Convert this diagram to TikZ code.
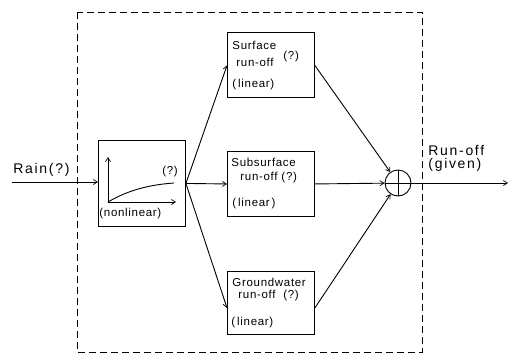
\documentclass[tikz,border=0pt]{standalone}
\usepackage{fontspec}
\setmainfont{Liberation Sans}[LetterSpace=6]
\usetikzlibrary{arrows.meta}
\begin{document}
\begin{tikzpicture}[x=1pt,y=-1pt,
  line width=0.9pt,
  arr/.style={-{Straight Barb[length=4pt,width=5pt,line width=0.7pt]}},
  block/.style={draw,minimum width=87pt,inner sep=0pt,anchor=north west},
  boxtext/.style={inner sep=0pt,font=\fontsize{11.5}{13}\selectfont},
  bigtext/.style={inner sep=0pt,font=\fontsize{14}{16}\selectfont\addfontfeature{LetterSpace=12}},
  sumnode/.style={draw,circle,minimum size=26pt,inner sep=0pt,
    path picture={\draw (path picture bounding box.north) -- (path picture bounding box.south)
                        (path picture bounding box.west) -- (path picture bounding box.east);}}]
\useasboundingbox (0,0) rectangle (509,357);

% system boundary
\draw[dash pattern=on 7pt off 4pt] (77,12) rectangle (422,352);

% blocks
\node[block,minimum height=86pt] (nl) at (98,140) {};
\node[block,minimum height=65pt] (sf) at (227,32) {};
\node[block,minimum height=65pt] (ss) at (227,151) {};
\node[block,minimum height=63pt] (gw) at (227,271) {};
\node[sumnode] (sum) at (398,183) {};

% axes and curve inside the nonlinear block
\coordinate (o) at (108,202);
\coordinate (ytip) at (108,157);
\coordinate (xtip) at (176,202);
\draw[arr] (o) -- (ytip);
\draw[arr] (o) -- (xtip);
\draw (o) .. controls (125,192) and (145,185) .. (174,183);
\node[boxtext] (nlq) at (170,172) {(?)};
\node[boxtext,anchor=west] (nllab) at (99,214) {(nonlinear)};

% block texts
\node[boxtext,anchor=west] (sf1) at (232,45) {Surface};
\node[boxtext,anchor=west] (sf2) at (236,62) {run-off};
\node[boxtext,anchor=west] (sf3) at (283,57) {(?)};
\node[boxtext,anchor=west] (sf4) at (232,85) {(\,linear)};

\node[boxtext,anchor=west] (ss1) at (231,162) {Subsurface};
\node[boxtext,anchor=west] (ss2) at (240,178) {run-off~(?)};
\node[boxtext,anchor=west] (ss3) at (232,204) {(\,linear\,)};

\node[boxtext,anchor=west] (gw1) at (232,282) {Groundwater};
\node[boxtext,anchor=west] (gw2) at (238,296) {run-off~~(?)};
\node[boxtext,anchor=west] (gw3) at (231,323) {(\,linear)};

% input and output labels
\node[bigtext,anchor=west] (rain) at (13,170) {Rain(?)};
\node[bigtext,anchor=west] (ro1) at (428,150) {Run-off};
\node[bigtext,anchor=west] (ro2) at (428,165) {(given)};

% connectors
\coordinate (in) at (12,182);
\coordinate (out) at (508,183);
\draw[arr] (in) -- (nl.west |- in);
\draw[arr] (nl.east) -- ([yshift=-0.5pt]sf.west);
\draw[arr] (nl.east) -- (ss.west);
\draw[arr] (nl.east) -- ([yshift=-5pt]gw.west);
\draw[arr] ([yshift=-0.5pt]sf.east) -- (sum);
\draw[arr] (ss.east) -- (sum);
\draw[arr] ([yshift=-5pt]gw.east) -- (sum);
\draw[arr] (sum.east) -- (out);
\end{tikzpicture}
\end{document}
